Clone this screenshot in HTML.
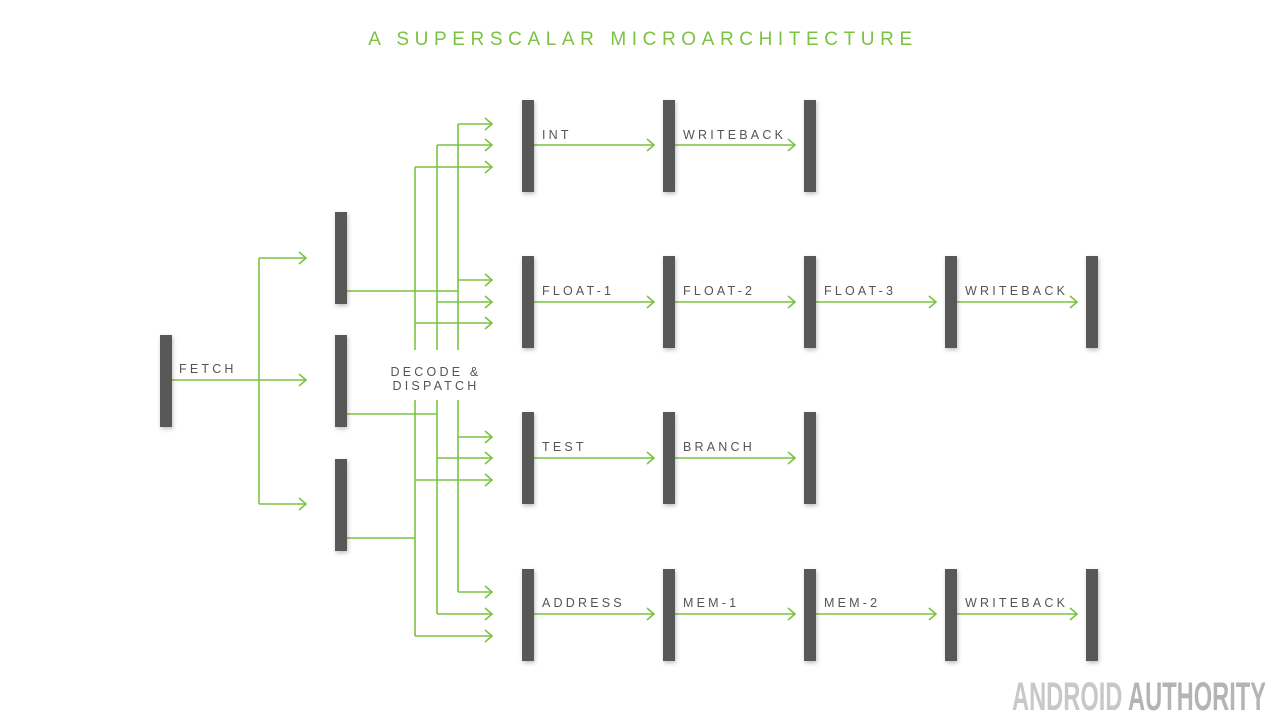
<!DOCTYPE html>
<html><head><meta charset="utf-8"><style>
html,body{margin:0;padding:0;background:#fff;width:1280px;height:720px;overflow:hidden}
svg text{font-family:"Liberation Sans","DejaVu Sans",sans-serif}
</style></head><body>
<svg width="1280" height="720" viewBox="0 0 1280 720" xmlns="http://www.w3.org/2000/svg">
<defs>
<filter id="sh" x="-100%" y="-20%" width="300%" height="140%"><feDropShadow dx="1" dy="2" stdDeviation="2" flood-color="#000" flood-opacity="0.25"/></filter>
</defs>
<text x="643" y="45" text-anchor="middle" font-size="19" letter-spacing="5.6" fill="#7cc242">A SUPERSCALAR MICROARCHITECTURE</text>
<g stroke="#7cc242" stroke-width="1.6" fill="none">
<path d="M172 380H259M259 258V504M259 258H306M259 380H306M259 504H306"/>
<path d="M299 252L306 258L299 264M299 374L306 380L299 386M299 498L306 504L299 510"/>
<path d="M458 124V350M458 400V592M437 145V350M437 400V614M415 167V350M415 400V636"/>
<path d="M347 291H458M347 414H437M347 538H415"/>
<path d="M458 124H492M437 145H492M415 167H492M458 280H492M437 302H492M415 323H492M458 437H492M437 458H492M415 480H492M458 592H492M437 614H492M415 636H492"/>
<path d="M485 118L492 124L485 130M485 139L492 145L485 151M485 161L492 167L485 173M485 274L492 280L485 286M485 296L492 302L485 308M485 317L492 323L485 329M485 431L492 437L485 443M485 452L492 458L485 464M485 474L492 480L485 486M485 586L492 592L485 598M485 608L492 614L485 620M485 630L492 636L485 642"/>
<path d="M534 145H654M675 145H795"/>
<path d="M534 302H654M675 302H795M816 302H936M957 302H1077"/>
<path d="M534 458H654M675 458H795"/>
<path d="M534 614H654M675 614H795M816 614H936M957 614H1077"/>
<path d="M647 139L654 145L647 151M788 139L795 145L788 151M647 296L654 302L647 308M788 296L795 302L788 308M929 296L936 302L929 308M1070 296L1077 302L1070 308M647 452L654 458L647 464M788 452L795 458L788 464M647 608L654 614L647 620M788 608L795 614L788 620M929 608L936 614L929 620M1070 608L1077 614L1070 620"/>
</g>
<g fill="#595959" filter="url(#sh)">
<rect x="160" y="335" width="12" height="92"/>
<rect x="335" y="212" width="12" height="92"/>
<rect x="335" y="335" width="12" height="92"/>
<rect x="335" y="459" width="12" height="92"/>
<rect x="522" y="100" width="12" height="92"/><rect x="663" y="100" width="12" height="92"/><rect x="804" y="100" width="12" height="92"/>
<rect x="522" y="256" width="12" height="92"/><rect x="663" y="256" width="12" height="92"/><rect x="804" y="256" width="12" height="92"/><rect x="945" y="256" width="12" height="92"/><rect x="1086" y="256" width="12" height="92"/>
<rect x="522" y="412" width="12" height="92"/><rect x="663" y="412" width="12" height="92"/><rect x="804" y="412" width="12" height="92"/>
<rect x="522" y="569" width="12" height="92"/><rect x="663" y="569" width="12" height="92"/><rect x="804" y="569" width="12" height="92"/><rect x="945" y="569" width="12" height="92"/><rect x="1086" y="569" width="12" height="92"/>
</g>
<g font-size="12.5" letter-spacing="3.2" fill="#555">
<text x="179" y="373">FETCH</text>
<text x="436" y="376" text-anchor="middle">DECODE &amp;</text>
<text x="436" y="390" text-anchor="middle">DISPATCH</text>
<text x="542" y="139">INT</text><text x="683" y="139">WRITEBACK</text>
<text x="542" y="295">FLOAT-1</text><text x="683" y="295">FLOAT-2</text><text x="824" y="295">FLOAT-3</text><text x="965" y="295">WRITEBACK</text>
<text x="542" y="451">TEST</text><text x="683" y="451">BRANCH</text>
<text x="542" y="607">ADDRESS</text><text x="683" y="607">MEM-1</text><text x="824" y="607">MEM-2</text><text x="965" y="607">WRITEBACK</text>
</g>
<text x="1012" y="710" font-size="40" font-weight="bold" fill="#c8c8c8" textLength="254" lengthAdjust="spacingAndGlyphs">ANDROID <tspan fill="#b4b4b4">AUTHORITY</tspan></text>
</svg>
</body></html>
